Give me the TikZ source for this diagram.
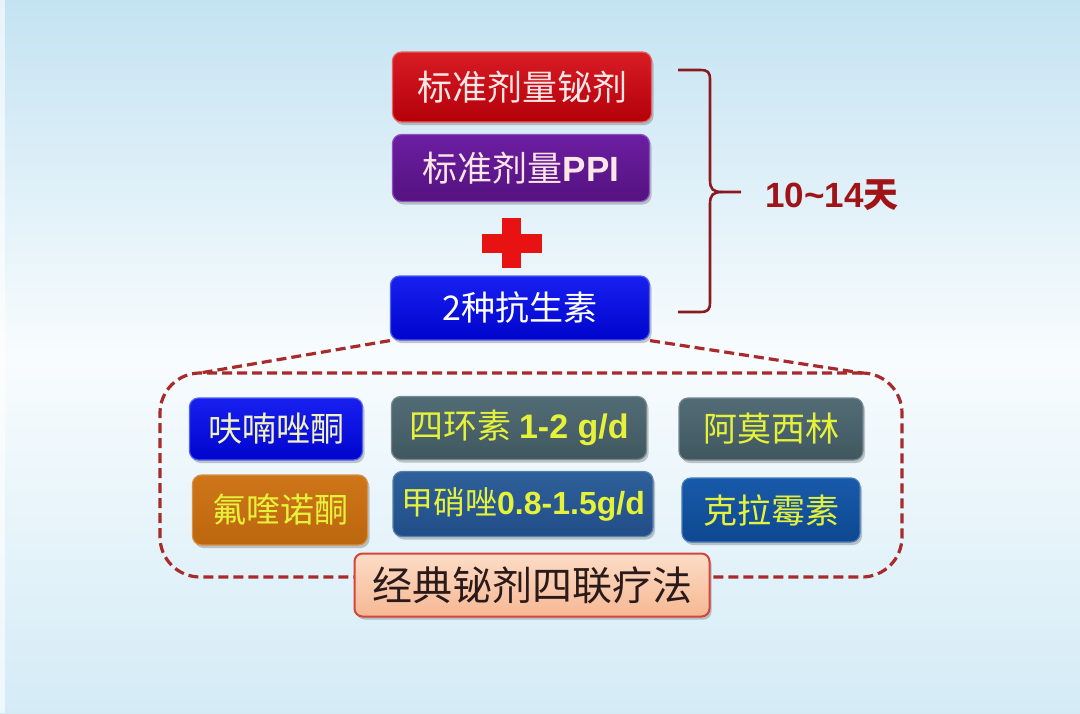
\documentclass[tikz,border=0pt]{standalone}
\usepackage{fontspec}
\setmainfont{Noto Sans CJK SC}
\newfontfamily\lat{Liberation Sans}
\usetikzlibrary{shadows}
\newcommand\fsz[1]{\fontsize{#1}{#1}\selectfont}
\definecolor{bgtop}{HTML}{C4E3F2}
\definecolor{bgmid}{HTML}{F8FCFE}
\definecolor{bgbot}{HTML}{D4EBF6}
\definecolor{redA}{HTML}{D81C24}
\definecolor{redB}{HTML}{B4000A}
\definecolor{redE}{HTML}{E86060}
\definecolor{purA}{HTML}{6C1EA2}
\definecolor{purB}{HTML}{54127F}
\definecolor{purE}{HTML}{9050C0}
\definecolor{bluA}{HTML}{1820F0}
\definecolor{bluB}{HTML}{0004CC}
\definecolor{bluE}{HTML}{5060F0}
\definecolor{tealA}{HTML}{526C76}
\definecolor{tealB}{HTML}{40575F}
\definecolor{stA}{HTML}{2E609A}
\definecolor{stB}{HTML}{224E88}
\definecolor{clA}{HTML}{185AAA}
\definecolor{clB}{HTML}{0E4890}
\definecolor{orA}{HTML}{CE7618}
\definecolor{orB}{HTML}{BC660E}
\definecolor{labA}{HTML}{FCDCC6}
\definecolor{labB}{HTML}{F6B894}
\definecolor{labE}{HTML}{D5453A}
\definecolor{pinkw}{HTML}{FCE6E6}
\definecolor{yel}{HTML}{E6F23A}
\definecolor{paley}{HTML}{F2F2C0}
\definecolor{dashred}{HTML}{A82A2A}
\definecolor{bracec}{HTML}{8A1A1E}
\definecolor{dayc}{HTML}{A01418}
\definecolor{crossred}{HTML}{E81212}
\definecolor{labtext}{HTML}{2A1A1A}
\begin{document}
\begin{tikzpicture}[x=1pt,y=-1pt,
  tbox/.style={rounded corners=9pt, line width=1.2pt, inner sep=0pt, align=center,
    drop shadow={shadow xshift=2pt, shadow yshift=-3pt, opacity=0.3, fill=black!70}},
  dashln/.style={draw=dashred, line width=3.2pt, dash pattern=on 10pt off 5pt},
  bracestyle/.style={draw=bracec, line width=2.6pt}]
\useasboundingbox (0,0) rectangle (1080,713);
\shade[top color=bgtop, bottom color=bgbot, middle color=bgmid] (0,0) rectangle (1080,713);
\fill[white, opacity=0.6] (0,0) rectangle (5,713);

% top boxes
\node[tbox, top color=redA, bottom color=redB, draw=redE, minimum width=259pt, minimum height=70pt, text=pinkw, font=\fsz{35}] (bis) at (522,87) {标准剂量铋剂};
\node[tbox, top color=purA, bottom color=purB, draw=purE, minimum width=257pt, minimum height=67pt, text=pinkw, font=\fsz{35}] (ppi) at (521,168) {标准剂量{\lat\bfseries PPI}};
% cross
\fill[crossred] (482,234) rectangle (542,253);
\fill[crossred] (502,218) rectangle (521,268);
\node[tbox, top color=bluA, bottom color=bluB, draw=bluE, minimum width=259pt, minimum height=64pt, text=white, font=\fsz{34}] (abx) at (520,308) {2种抗生素};

% brace
\draw[bracestyle] (678,70) -- (700,70) .. controls (708,70) and (710,72) .. (710,80) -- (710,180)
  .. controls (710,189) and (713,192) .. (722,192) -- (741,192);
\draw[bracestyle] (722,192) .. controls (713,192) and (710,195) .. (710,204) -- (710,302)
  .. controls (710,310) and (708,312) .. (700,312) -- (678,312);
\node[text=dayc, font=\fsz{35}\bfseries, inner sep=0pt] (days) at (832,195) {{\lat\bfseries 10\textasciitilde 14}天};

% group
\node[dashln, rounded corners=40pt, minimum width=742pt, minimum height=204pt, inner sep=0pt] (grp) at (531,475) {};
\coordinate (gtl) at (200,373);
\coordinate (gtr) at (862,373);
\draw[dashln] (abx.south west) -- (gtl);
\draw[dashln] (abx.south east) -- (gtr);

% inner boxes
\node[tbox, top color=bluA, bottom color=bluB, draw=bluE, minimum width=173pt, minimum height=62pt, text=paley, font=\fsz{34}] (fur) at (276,429) {呋喃唑酮};
\node[tbox, top color=tealA, bottom color=tealB, draw=tealA!80!white, minimum width=255pt, minimum height=63pt, text=yel, font=\fsz{34}] (tet) at (519,428) {四环素 {\lat\bfseries 1-2 g/d}};
\node[tbox, top color=tealA, bottom color=tealB, draw=tealA!80!white, minimum width=184pt, minimum height=62pt, text=yel, font=\fsz{34}] (amo) at (771,429) {阿莫西林};
\node[tbox, top color=orA, bottom color=orB, draw=orA!80!white, minimum width=175pt, minimum height=70pt, text=yel, font=\fsz{34}] (flu) at (280,510) {氟喹诺酮};
\node[tbox, top color=stA, bottom color=stB, draw=stA!80!white, minimum width=260pt, minimum height=65pt, text=yel, font=\fsz{32}] (met) at (523,504) {甲硝唑{\lat\bfseries 0.8-1.5g/d}};
\node[tbox, top color=clA, bottom color=clB, draw=clA!80!white, minimum width=178pt, minimum height=64pt, text=yel, font=\fsz{34}] (cla) at (771,510) {克拉霉素};

% label
\node[tbox, top color=labA, bottom color=labB, draw=labE, line width=2pt, rounded corners=8pt, minimum width=355pt, minimum height=63pt, text=labtext, font=\fsz{40}] (lab) at (532,585) {经典铋剂四联疗法};
\end{tikzpicture}
\end{document}
